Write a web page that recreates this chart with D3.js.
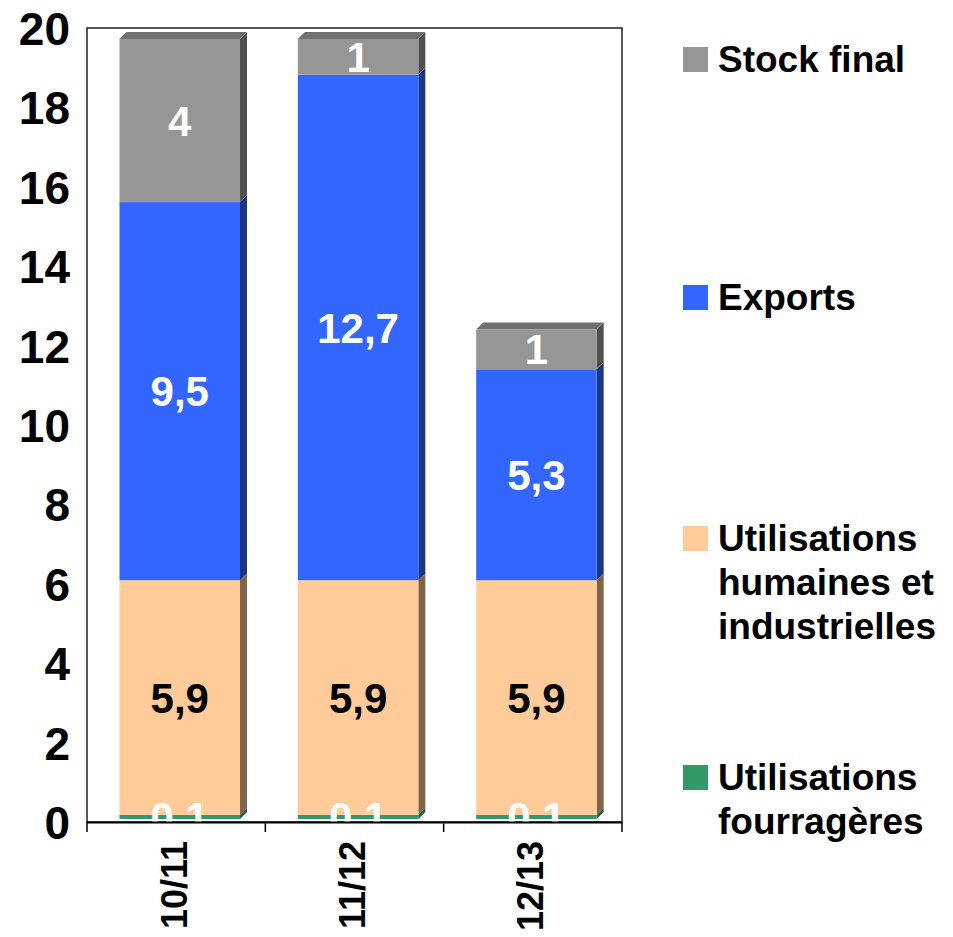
<!DOCTYPE html>
<html>
<head>
<meta charset="utf-8">
<script src="https://cdn.jsdelivr.net/npm/d3@7"></script>
<style>
  body { margin: 0; background: #fff; }
  svg text { font-family: "Liberation Sans", Arial, sans-serif; font-weight: bold; }
</style>
</head>
<body>
<div id="chart"></div>
<script>
// campaigns
const categories = ["10/11", "11/12", "12/13"];
// series, stacked bottom -> top
const fourrageres = [0.1, 0.1, 0.1];
const humaines = [5.9, 5.9, 5.9];
const exports_ = [9.5, 12.7, 5.3];
const stockFinal = [4.1, 0.9, 1.0];
const yTicks = [0, 2, 4, 6, 8, 10, 12, 14, 16, 18, 20];

const keys = ["fourr", "hum", "exp", "stock"];
const front = { fourr: "#339966", hum: "#FFCC99", exp: "#3366FF", stock: "#969696" };
const side = { fourr: "#1f5c3d", hum: "#806549", exp: "#1c3686", stock: "#505050" };
const topc = { fourr: "#2a7f55", hum: "#d9ad82", exp: "#2a55d6", stock: "#707070" };
const labelColor = { fourr: "#fff", hum: "#000", exp: "#fff", stock: "#fff" };

const fr = d3.formatLocale({ decimal: ",", thousands: " ", grouping: [3], currency: ["", ""] });
const labelFmt = { fourr: fr.format(".1f"), hum: fr.format(".1f"), exp: fr.format(".1f"), stock: fr.format(".0f") };

const rows = categories.map((c, i) => ({
  cat: c, fourr: fourrageres[i], hum: humaines[i], exp: exports_[i], stock: stockFinal[i]
}));

const W = 953, H = 937;
const plot = { left: 87, top: 28, right: 622, bottom: 822 };
const depth = 7;

const svg = d3.select("#chart").append("svg")
  .attr("width", W).attr("height", H);

const x = d3.scaleBand().domain(categories).range([plot.left, plot.right]);
// labels sit on the back wall, bar fronts are a bit lower
const yAxisScale = d3.scaleLinear().domain([0, 20]).range([plot.bottom, plot.top]);
const y = d3.scaleLinear().domain([0, 20]).range([819, 23]);

const barOffset = 32.5, barW = 120.5;

// frame
svg.append("rect")
  .attr("x", plot.left).attr("y", plot.top)
  .attr("width", plot.right - plot.left).attr("height", plot.bottom - plot.top)
  .attr("fill", "none").attr("stroke", "#222").attr("stroke-width", 1.5);

const stacked = d3.stack().keys(keys)(rows);

const g = svg.append("g");
stacked.forEach((layer, li) => {
  const k = layer.key;
  layer.forEach((d, i) => {
    const x0 = x(categories[i]) + barOffset, x1 = x0 + barW;
    const yb = y(d[0]), yt = y(d[1]);
    // side face
    g.append("polygon")
      .attr("points", [[x1, yt], [x1 + depth, yt - depth], [x1 + depth, yb - depth], [x1, yb]].join(" "))
      .attr("fill", side[k]);
    // top face only for the top segment
    if (li === stacked.length - 1) {
      g.append("polygon")
        .attr("points", [[x0, yt], [x0 + depth, yt - depth], [x1 + depth, yt - depth], [x1, yt]].join(" "))
        .attr("fill", topc[k]);
    }
    g.append("rect")
      .attr("x", x0).attr("y", yt)
      .attr("width", barW).attr("height", yb - yt)
      .attr("fill", front[k]);
  });
});

// value labels
stacked.forEach(layer => {
  const k = layer.key;
  layer.forEach((d, i) => {
    const x0 = x(categories[i]) + barOffset;
    svg.append("text")
      .attr("x", x0 + barW / 2)
      .attr("y", (y(d[0]) + y(d[1])) / 2)
      .attr("dy", "0.36em")
      .attr("text-anchor", "middle")
      .attr("font-size", 42)
      .attr("fill", labelColor[k])
      .text(labelFmt[k](d[1] - d[0]));
  });
});

// x axis line + ticks
svg.append("line")
  .attr("x1", plot.left).attr("x2", plot.right)
  .attr("y1", plot.bottom + 0.5).attr("y2", plot.bottom + 0.5)
  .attr("stroke", "#000").attr("stroke-width", 2);
const bounds = categories.map(c => x(c)).concat([plot.right]);
svg.selectAll(".xtick").data(bounds).enter().append("line")
  .attr("x1", d => d).attr("x2", d => d)
  .attr("y1", plot.bottom).attr("y2", plot.bottom + 10)
  .attr("stroke", "#000").attr("stroke-width", 1.5);

svg.selectAll(".xlab").data(categories).enter().append("text")
  .attr("transform", d => "translate(" + (x(d) + barOffset + barW / 2 + 7) + "," + 841 + ") rotate(-90)")
  .attr("text-anchor", "end")
  .attr("font-size", 36)
  .attr("fill", "#000")
  .text(d => d);

// y axis labels
const yAxis = svg.append("g")
  .attr("transform", "translate(" + plot.left + ",0)")
  .call(d3.axisLeft(yAxisScale).tickValues(yTicks).tickSize(0).tickPadding(17));
yAxis.select(".domain").remove();
yAxis.selectAll("text")
  .attr("font-size", 46)
  .attr("font-family", "'Liberation Sans', Arial, sans-serif")
  .attr("font-weight", "bold")
  .attr("fill", "#000")
  .attr("dy", "0.36em");

// legend, top to bottom
const legendItems = [
  { key: "stock", lines: ["Stock final"], base: 72 },
  { key: "exp", lines: ["Exports"], base: 310 },
  { key: "hum", lines: ["Utilisations", "humaines et", "industrielles"], base: 551 },
  { key: "fourr", lines: ["Utilisations", "fourragères"], base: 790 }
];
const leg = svg.append("g");
legendItems.forEach(it => {
  leg.append("rect")
    .attr("x", 683).attr("y", it.base - 25)
    .attr("width", 25).attr("height", 25)
    .attr("fill", front[it.key]);
  const t = leg.append("text")
    .attr("x", 718).attr("y", it.base)
    .attr("font-size", 37).attr("fill", "#000");
  it.lines.forEach((l, j) => {
    t.append("tspan").attr("x", 718).attr("y", it.base + j * 44).text(l);
  });
});
</script>
</body>
</html>
